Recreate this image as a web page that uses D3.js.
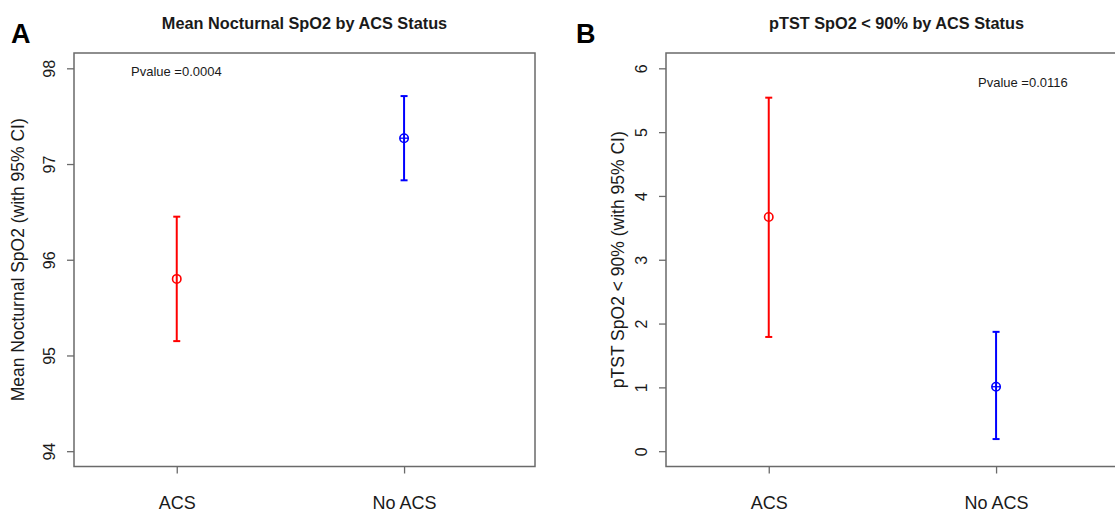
<!DOCTYPE html>
<html>
<head>
<meta charset="utf-8">
<script src="https://cdn.jsdelivr.net/npm/d3@7"></script>
<style>
  html, body { margin: 0; padding: 0; background: #fff; }
  svg { display: block; font-family: "Liberation Sans", Arial, sans-serif; }
</style>
</head>
<body>
<svg id="chart" width="1115" height="513"></svg>
<script>
// ---- data ----
const categories = ["ACS", "No ACS"];
const seriesColors = ["#FF0000", "#0000FF"];

const meanA  = [95.80, 97.27];
const lowerA = [95.15, 96.83];
const upperA = [96.45, 97.71];
const yTicksA = [94, 95, 96, 97, 98];

const meanB  = [3.67, 1.01];
const lowerB = [1.79, 0.19];
const upperB = [5.54, 1.87];
const yTicksB = [0, 1, 2, 3, 4, 5, 6];

const panelLetters = ["A", "B"];
const panelTitles = ["Mean Nocturnal SpO2 by ACS Status", "pTST SpO2 < 90% by ACS Status"];
const yTitles = ["Mean Nocturnal SpO2 (with 95% CI)", "pTST SpO2 < 90% (with 95% CI)"];
const pvalueTexts = ["Pvalue =0.0004", "Pvalue =0.0116"];

// ---- layout ----
const svg = d3.select("#chart");

const panels = [
  { left: 74, letterX: 11, mean: meanA, lower: lowerA, upper: upperA, ticks: yTicksA,
    ylim: [94, 98], pvX: 131, pvY: 75.5, ytitleX: 24 },
  { left: 666, letterX: 576, mean: meanB, lower: lowerB, upper: upperB, ticks: yTicksB,
    ylim: [0, 6], pvX: 978, pvY: 87, ytitleX: 624 }
];
const boxW = 461, boxTop = 53, boxBottom = 466.5;
const axisColor = "#6a6a6a";
const textColor = "#1a1a1a";

panels.forEach((p, i) => {
  const g = svg.append("g");
  const right = p.left + boxW;

  const x = d3.scaleLinear().domain([0.548, 2.576]).range([p.left, right]);
  const pad = (p.ylim[1] - p.ylim[0]) * 0.04;
  const y = d3.scaleLinear().domain([p.ylim[0] - pad, p.ylim[1] + pad]).range([boxBottom, boxTop]);

  // panel letter
  g.append("text").attr("x", p.letterX).attr("y", 42.5)
    .attr("font-size", 27).attr("font-weight", "bold").attr("fill", "#000")
    .text(panelLetters[i]);

  // title
  g.append("text").attr("x", (p.left + right) / 2).attr("y", 28.5)
    .attr("text-anchor", "middle").attr("font-size", 16.3).attr("font-weight", "bold")
    .attr("fill", textColor).text(panelTitles[i]);

  // y axis
  const yAxis = g.append("g").attr("transform", `translate(${p.left},0)`)
    .call(d3.axisLeft(y).tickValues(p.ticks).tickSize(7).tickFormat(d3.format("d")));
  yAxis.select(".domain").remove();
  yAxis.selectAll(".tick line").attr("stroke", axisColor).attr("stroke-width", 1.3);
  yAxis.selectAll(".tick text")
    .attr("x", null).attr("dy", null)
    .attr("transform", "translate(-19,0) rotate(-90)")
    .attr("text-anchor", "middle")
    .attr("font-size", 16).attr("fill", textColor)
    .attr("font-family", "Liberation Sans, Arial, sans-serif");

  // x axis
  const xAxis = g.append("g").attr("transform", `translate(0,${boxBottom})`)
    .call(d3.axisBottom(x).tickValues([1, 2]).tickSize(7).tickPadding(22.5)
      .tickFormat((d) => categories[d - 1]));
  xAxis.select(".domain").remove();
  xAxis.selectAll(".tick line").attr("stroke", axisColor).attr("stroke-width", 1.3);
  xAxis.selectAll(".tick text").attr("font-size", 18).attr("fill", textColor)
    .attr("font-family", "Liberation Sans, Arial, sans-serif");

  // box
  g.append("rect").attr("x", p.left).attr("y", boxTop)
    .attr("width", boxW).attr("height", boxBottom - boxTop)
    .attr("fill", "none").attr("stroke", axisColor).attr("stroke-width", 1.5);

  // y axis title
  g.append("text")
    .attr("transform", `translate(${p.ytitleX},${(boxTop + boxBottom) / 2}) rotate(-90)`)
    .attr("text-anchor", "middle").attr("font-size", 17.5).attr("fill", textColor)
    .text(yTitles[i]);

  // p-value
  g.append("text").attr("x", p.pvX).attr("y", p.pvY)
    .attr("font-size", 13).attr("fill", textColor)
    .text(pvalueTexts[i]);

  // error bars
  categories.forEach((c, j) => {
    const cx = x(j + 1);
    const col = seriesColors[j];
    g.append("line").attr("x1", cx).attr("x2", cx)
      .attr("y1", y(p.lower[j])).attr("y2", y(p.upper[j]))
      .attr("stroke", col).attr("stroke-width", 2);
    [p.lower[j], p.upper[j]].forEach(v => {
      g.append("line").attr("x1", cx - 3.5).attr("x2", cx + 3.5)
        .attr("y1", y(v)).attr("y2", y(v))
        .attr("stroke", col).attr("stroke-width", 2);
    });
    g.append("circle").attr("cx", cx).attr("cy", y(p.mean[j])).attr("r", 4.2)
      .attr("fill", "none").attr("stroke", col).attr("stroke-width", 1.6);
    if (j === 1) {
      g.append("line").attr("x1", cx - 4.2).attr("x2", cx + 4.2)
        .attr("y1", y(p.mean[j])).attr("y2", y(p.mean[j]))
        .attr("stroke", col).attr("stroke-width", 1.3);
    }
  });
});
</script>
</body>
</html>
